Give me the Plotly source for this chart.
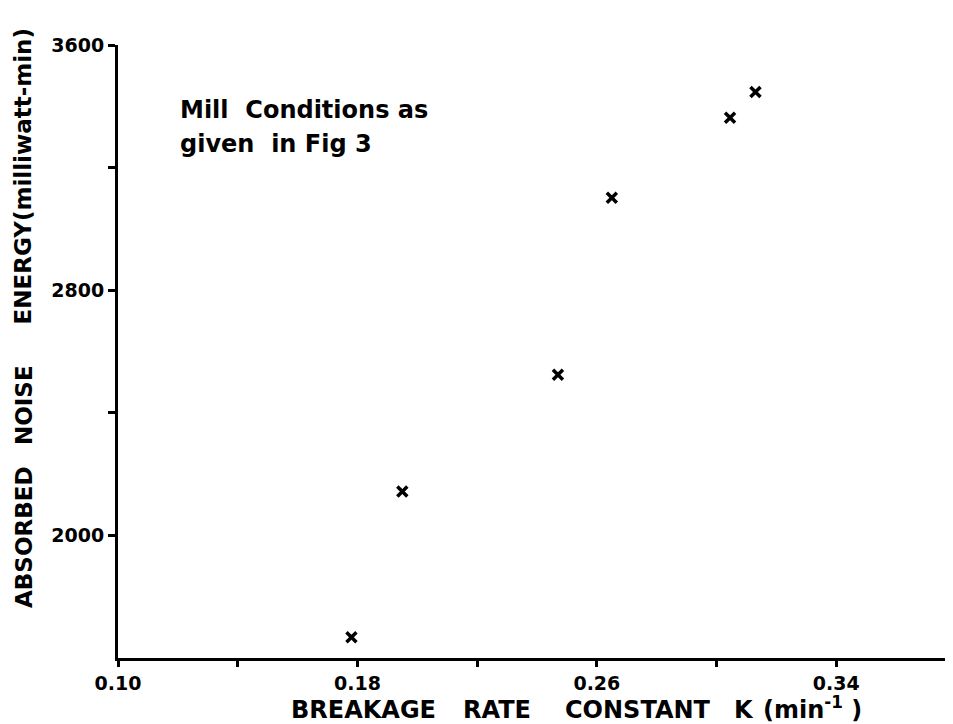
import plotly.graph_objects as go

# Data
k_values = [0.178, 0.195, 0.247, 0.265, 0.3045, 0.313]
energy_values = [1668, 2143, 2524, 3102, 3363, 3447]

x_major_ticks = [0.10, 0.18, 0.26, 0.34]
x_major_labels = ["0.10", "0.18", "0.26", "0.34"]
x_minor_ticks = [0.14, 0.22, 0.30]
y_major_ticks = [2000, 2800, 3600]
y_major_labels = ["2000", "2800", "3600"]
y_minor_ticks = [2400, 3200]

# Axis-title words (kept as real text, placed word by word to mimic wide letter spacing)
x_title_words = ["BREAKAGE", "RATE", "CONSTANT", "K", "(min<sup>-1</sup>&nbsp;)"]
x_title_pos = [0.2945, 0.4561, 0.625, 0.7524, 0.8347]
y_title_words = ["ABSORBED", "NOISE", "ENERGY(milliwatt-min)"]
y_title_pos = [0.1974, 0.4127, 0.7855]

note_lines = ["Mill&nbsp;&nbsp;Conditions as", "given&nbsp;&nbsp;in Fig 3"]
note_pos = [0.92, 0.865]

font_family = "DejaVu Sans"

fig = go.Figure()
fig.add_trace(go.Scatter(
    x=k_values, y=energy_values, mode="markers",
    marker=dict(symbol="x-thin-open", size=10, color="black",
                line=dict(color="black", width=3.5)),
    showlegend=False,
))

fig.update_layout(
    width=945, height=716,
    margin=dict(l=110, r=3, t=37, b=66),
    paper_bgcolor="white", plot_bgcolor="white",
    font=dict(family=font_family, color="black"),
    xaxis=dict(
        range=[0.10, 0.378], showgrid=False, zeroline=False,
        showline=True, linecolor="black", linewidth=3,
        tickmode="array", tickvals=x_major_ticks, ticktext=x_major_labels,
        ticks="outside", ticklen=6, tickwidth=3, tickcolor="black",
        tickfont=dict(size=19, family=font_family, weight="bold"),
        minor=dict(tickmode="array", tickvals=x_minor_ticks, ticks="outside",
                   ticklen=6, tickwidth=3, tickcolor="black", showgrid=False),
    ),
    yaxis=dict(
        range=[1600, 3600], showgrid=False, zeroline=False,
        showline=True, linecolor="black", linewidth=3,
        tickmode="array", tickvals=y_major_ticks, ticktext=y_major_labels,
        ticks="outside", ticklen=7, tickwidth=3, tickcolor="black",
        tickfont=dict(size=19, family=font_family, weight="bold"),
        minor=dict(tickmode="array", tickvals=y_minor_ticks, ticks="outside",
                   ticklen=7, tickwidth=3, tickcolor="black", showgrid=False),
    ),
)

for word, xp in zip(x_title_words, x_title_pos):
    fig.add_annotation(
        text=word, xref="paper", yref="paper", x=xp, y=-0.1115,
        xanchor="center", yanchor="bottom", showarrow=False,
        font=dict(size=24, family=font_family, weight="bold"),
    )
for word, yp in zip(y_title_words, y_title_pos):
    fig.add_annotation(
        text=word, xref="paper", yref="paper", x=-0.113, y=yp,
        xanchor="center", yanchor="middle", showarrow=False, textangle=-90,
        font=dict(size=23, family=font_family, weight="bold"),
    )
for line, yp in zip(note_lines, note_pos):
    fig.add_annotation(
        text=line, xref="paper", yref="paper", x=0.072, y=yp,
        xanchor="left", yanchor="top", showarrow=False, align="left",
        font=dict(size=24, family=font_family, weight="bold"),
    )

fig.write_html("out.html")
